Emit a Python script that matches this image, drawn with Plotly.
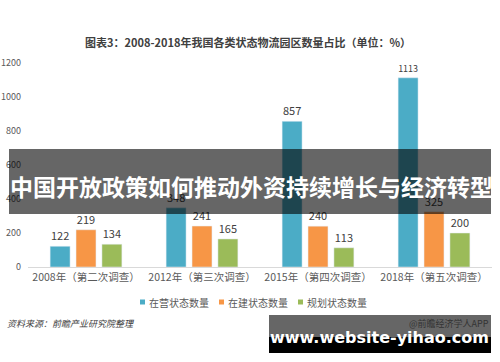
import plotly.graph_objects as go

categories = ["2008年（第二次调查）", "2012年（第三次调查）", "2015年（第四次调查）", "2018年（第五次调查）"]
series_names = ["在营状态数量", "在建状态数量", "规划状态数量"]
operating = [122, 348, 857, 1113]
building = [219, 241, 240, 325]
planning = [134, 165, 113, 200]
y_ticks = [0, 200, 400, 600, 800, 1000, 1200]

colors = ["#4bacc6", "#f79646", "#9bbb59"]
FONT = "Noto Sans CJK SC"

W, H = 500, 362
ML, MR, MT, MB = 28, 8, 63, 95
PW = W - ML - MR
PH = H - MT - MB


def px(x):
    return (x - ML) / PW


def py(y):
    return (H - MB - y) / PH


fig = go.Figure()
for name, vals, c in zip(series_names, [operating, building, planning], colors):
    fig.add_trace(go.Bar(
        x=categories, y=vals, name=name, marker_color=c,
        text=[str(v) for v in vals], textposition="outside",
        textfont=dict(size=11, color="#404040", family=FONT),
        cliponaxis=False,
    ))

shapes = []
annotations = []

# title
annotations.append(dict(text="<b>图表3：2008-2018年我国各类状态物流园区数量占比（单位：%）</b>",
                        x=px(248), y=py(42), xref="paper", yref="paper", showarrow=False,
                        xanchor="center", yanchor="middle",
                        font=dict(size=11, color="#404040", family=FONT)))

# manual legend
leg_items = [(140, series_names[0], colors[0]), (219, series_names[1], colors[1]), (298, series_names[2], colors[2])]
for lx, name, c in leg_items:
    shapes.append(dict(type="rect", xref="paper", yref="paper",
                       x0=px(lx), x1=px(lx + 5), y0=py(299.5), y1=py(304.5),
                       fillcolor=c, line=dict(width=0)))
    annotations.append(dict(text=name, x=px(lx + 7), y=py(302), xref="paper", yref="paper",
                            xanchor="left", yanchor="middle", showarrow=False,
                            font=dict(size=10, color="#595959", family=FONT)))

# source
annotations.append(dict(text="<i>资料来源：前瞻产业研究院整理</i>", x=px(5), y=py(323),
                        xref="paper", yref="paper", xanchor="left", yanchor="middle", showarrow=False,
                        font=dict(size=9, color="#404040", family=FONT)))

# dark overlay band with headline
shapes.append(dict(type="rect", xref="paper", yref="paper", layer="above",
                   x0=px(9), x1=px(491), y0=py(149), y1=py(214),
                   fillcolor="rgba(0,0,0,0.6)", line=dict(width=0)))
annotations.append(dict(text="<b>中国开放政策如何推动外资持续增长与经济转型</b>",
                        x=px(251), y=py(186), xref="paper", yref="paper", showarrow=False,
                        xanchor="center", yanchor="middle",
                        font=dict(size=23, color="white", family=FONT)))

# bottom-right watermark box
shapes.append(dict(type="rect", xref="paper", yref="paper", layer="above",
                   x0=px(269), x1=px(491), y0=py(315), y1=py(337),
                   fillcolor="#666666", line=dict(width=0)))
shapes.append(dict(type="rect", xref="paper", yref="paper", layer="above",
                   x0=px(269), x1=px(491), y0=py(337), y1=py(353),
                   fillcolor="#000000", line=dict(width=0)))
annotations.append(dict(text="@前瞻经济学人APP", x=px(491), y=py(323), xref="paper", yref="paper",
                        xanchor="right", yanchor="middle", showarrow=False,
                        font=dict(size=9, color="#333333", family=FONT)))
annotations.append(dict(text="<b>www.website-yihao.com</b>", x=px(379), y=py(337),
                        xref="paper", yref="paper", showarrow=False,
                        xanchor="center", yanchor="middle",
                        font=dict(size=16, color="white", family="DejaVu Sans")))

fig.update_layout(
    width=W, height=H,
    margin=dict(l=ML, r=MR, t=MT, b=MB, pad=0),
    paper_bgcolor="white", plot_bgcolor="white",
    barmode="group", bargap=0.33, bargroupgap=0.23,
    showlegend=False,
    font=dict(family=FONT, color="#595959"),
    shapes=shapes, annotations=annotations,
    xaxis=dict(showline=True, linecolor="#d9d9d9", linewidth=1, ticks="",
               tickangle=0, automargin=False,
               tickfont=dict(size=10.5, color="#595959", family=FONT)),
    yaxis=dict(range=[0, 1200], tickvals=y_ticks, showgrid=False, zeroline=False,
               showline=False, ticks="", ticklabelstandoff=6, automargin=False,
               tickfont=dict(size=9, color="#595959", family=FONT)),
)

fig.write_html("out.html", config={"displayModeBar": False},
               post_script="document.body.style.margin='0';")
